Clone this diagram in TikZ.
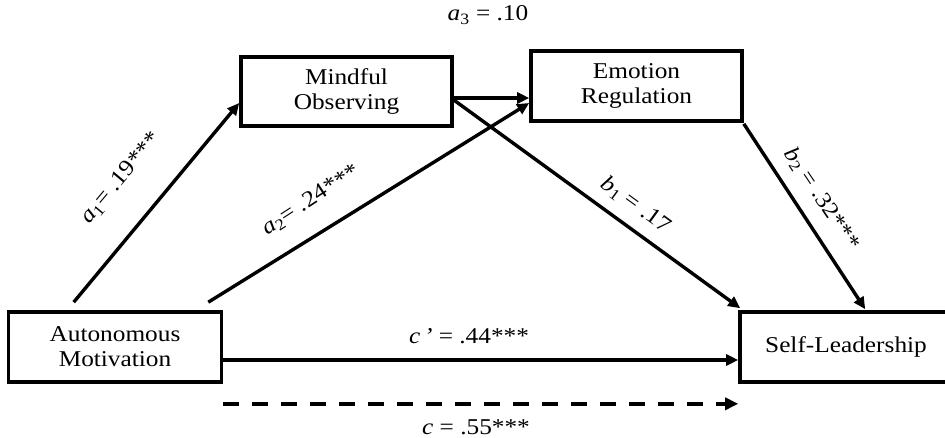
\documentclass[tikz,border=0pt]{standalone}
\usepackage{fontspec}
\setmainfont{Liberation Serif}[FakeStretch=1.12]
\usetikzlibrary{arrows.meta}
\begin{document}
\begin{tikzpicture}[x=1pt,y=-1pt,
  font=\fontsize{22.6}{25}\selectfont,
  box/.style={draw=black,line width=3.6pt,rectangle,align=center,inner sep=0pt},
  arr/.style={line width=3.4pt,-{Triangle[length=12pt,width=11pt]}},
  darr/.style={line width=4.2pt,dash pattern=on 16pt off 13pt,-{Triangle[length=13pt,width=12pt]}},
  lbl/.style={inner sep=0pt}]
\clip (0,0) rectangle (945,438);
\useasboundingbox (0,0) rectangle (945,438);
\node[box,minimum width=213pt,minimum height=70pt] (AM) at (115,347) {Autonomous\\Motivation};
\node[box,minimum width=211pt,minimum height=69pt] (MO) at (346.5,91.5) {Mindful\\Observing};
\node[box,minimum width=211pt,minimum height=70pt] (ER) at (636.5,86) {Emotion\\Regulation};
\node[box,minimum width=212pt,minimum height=70pt] (SL) at (846,347) {Self-Leadership};

\draw[arr] ([xshift=67pt,yshift=8pt]AM.north west) -- ([yshift=-11.5pt]MO.west);
\draw[arr] ([xshift=-15pt,yshift=8pt]AM.north east) -- ([yshift=-17pt]ER.west);
\draw[arr] ([yshift=-6.5pt]MO.east) -- ([yshift=-12pt]ER.west);
\draw[arr] ([yshift=-8.5pt]MO.east) -- ([xshift=2pt,yshift=2pt]SL.north west);
\draw[arr] ([yshift=-1pt]ER.south east) -- ([xshift=127pt,yshift=1pt]SL.north west);
\draw[arr] ([yshift=-13pt]AM.east) -- ([yshift=-13pt]SL.west);
\draw[darr] ([yshift=-20pt]AM.south east) -- ([yshift=-20pt]SL.south west);

\node[lbl] (la3) at (488,15) {\textit{a}\textsubscript{3} = .10};
\node[lbl,rotate=50] (la1) at (121,178) {\textit{a}\textsubscript{1}= .19***};
\node[lbl,rotate=33] (la2) at (311,200) {\textit{a}\textsubscript{2}= .24***};
\node[lbl,rotate=-36] (lb1) at (636,205) {\textit{b}\textsubscript{1} = .17};
\node[lbl,rotate=-56] (lb2) at (822,199) {\textit{b}\textsubscript{2} = .32***};
\node[lbl] (lcp) at (469,336) {\textit{c\,’} = .44***};
\node[lbl] (lc) at (476,427) {\textit{c} = .55***};
\end{tikzpicture}
\end{document}
